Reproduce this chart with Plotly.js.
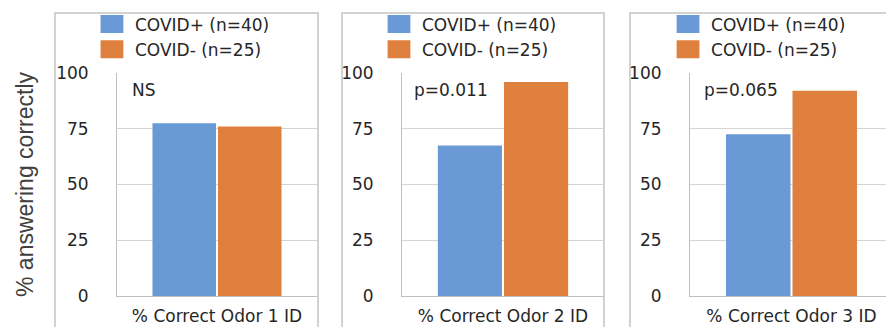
<!DOCTYPE html>
<html>
<head>
<meta charset="utf-8">
<script src="https://cdn.plot.ly/plotly-3.0.1.min.js"></script>
<style>html,body{margin:0;padding:0;background:#fff;}#chart{width:886px;height:327px;}</style>
</head>
<body>
<div id="chart"></div>
<script>
const categories = ["% Correct Odor 1 ID", "% Correct Odor 2 ID", "% Correct Odor 3 ID"];
const seriesNames = ["COVID+ (n=40)", "COVID- (n=25)"];
const covidPos = [77.5, 67.5, 72.5];
const covidNeg = [76, 96, 92];
const pLabels = ["NS", "p=0.011", "p=0.065"];
const yTicks = [0, 25, 50, 75, 100];

const colors = ["#6a9ad5", "#e0803f"];
const FONT = "DejaVu Sans, sans-serif";
const TXT = "#262626";
const axSuffix = ["", "2", "3"];
const xDomains = [[0.0746, 0.3153], [0.4176, 0.6606], [0.7641, 1]];
const xRanges = [[-0.5, 0.5], [-0.5, 0.5], [-0.5, 0.4655]];
const legendX = [0.0481, 0.3935, 0.7413];
const annX = [0.065, 0.05, 0.061];

const traces = [];
const layout = {
  width: 886, height: 327,
  margin: {l: 55, r: 0, t: 0, b: 0},
  paper_bgcolor: "#ffffff", plot_bgcolor: "#ffffff",
  barmode: "group", bargap: 0.345, bargroupgap: 0.03,
  font: {family: FONT, size: 17, color: TXT},
  showlegend: true,
  shapes: [], annotations: []
};

const boxes = [[0, 0.3165], [0.3454, 0.6606], [0.6919, 1.1]];

categories.forEach((cat, i) => {
  const s = axSuffix[i];
  const legName = "legend" + s;
  [covidPos, covidNeg].forEach((vals, k) => {
    traces.push({
      type: "bar", x: [cat], y: [vals[i]], name: seriesNames[k],
      marker: {color: colors[k]},
      xaxis: "x" + s, yaxis: "y" + s, legend: legName,
      hoverinfo: "skip"
    });
  });
  layout["xaxis" + s] = {
    domain: xDomains[i], range: xRanges[i], anchor: "y" + s,
    type: "category", showline: true, linecolor: "#bfbfbf", linewidth: 1,
    ticks: "", ticklabelstandoff: 5, showgrid: false, zeroline: false,
    tickfont: {family: FONT, size: 17, color: TXT}, fixedrange: true
  };
  const ya = {
    domain: [0.0948, 0.7768], range: [0, 100], anchor: "x" + s,
    tickvals: yTicks, showline: true, linecolor: "#bfbfbf", linewidth: 1,
    gridcolor: "#d4d4d4", gridwidth: 1, zeroline: false, ticks: "",
    ticklabelstandoff: 24, tickfont: {family: FONT, size: 17, color: TXT}, fixedrange: true
  };
  if (i === 0) {
    ya.title = {text: "% answering correctly", font: {family: "Liberation Sans, Arial, sans-serif", size: 23, color: "#404040"}, standoff: 16};
  }
  layout["yaxis" + s] = ya;
  layout[legName] = {
    x: legendX[i], y: 0.98, xanchor: "left", yanchor: "top",
    bgcolor: "rgba(0,0,0,0)", borderwidth: 0,
    font: {family: FONT, size: 17, color: TXT}, traceorder: "normal"
  };
  layout.shapes.push({
    type: "rect", xref: "paper", yref: "paper",
    x0: boxes[i][0], x1: boxes[i][1], y0: -0.2, y1: 0.9602,
    line: {color: "#c4c4c4", width: 1.5}, layer: "below"
  });
  layout.annotations.push({
    text: pLabels[i], xref: "x" + s + " domain", yref: "y" + s,
    x: annX[i], y: 92.4, xanchor: "left", yanchor: "middle", showarrow: false,
    font: {family: FONT, size: 17, color: TXT}
  });
});

Plotly.newPlot("chart", traces, layout, {displayModeBar: false, staticPlot: true}).then(() => {
  document.querySelectorAll(".legendpoints path").forEach(p => {
    const t = p.getAttribute("transform") || "";
    p.setAttribute("transform", t + " translate(-3,0) scale(1.9,1.5)");
  });
});
</script>
</body>
</html>
